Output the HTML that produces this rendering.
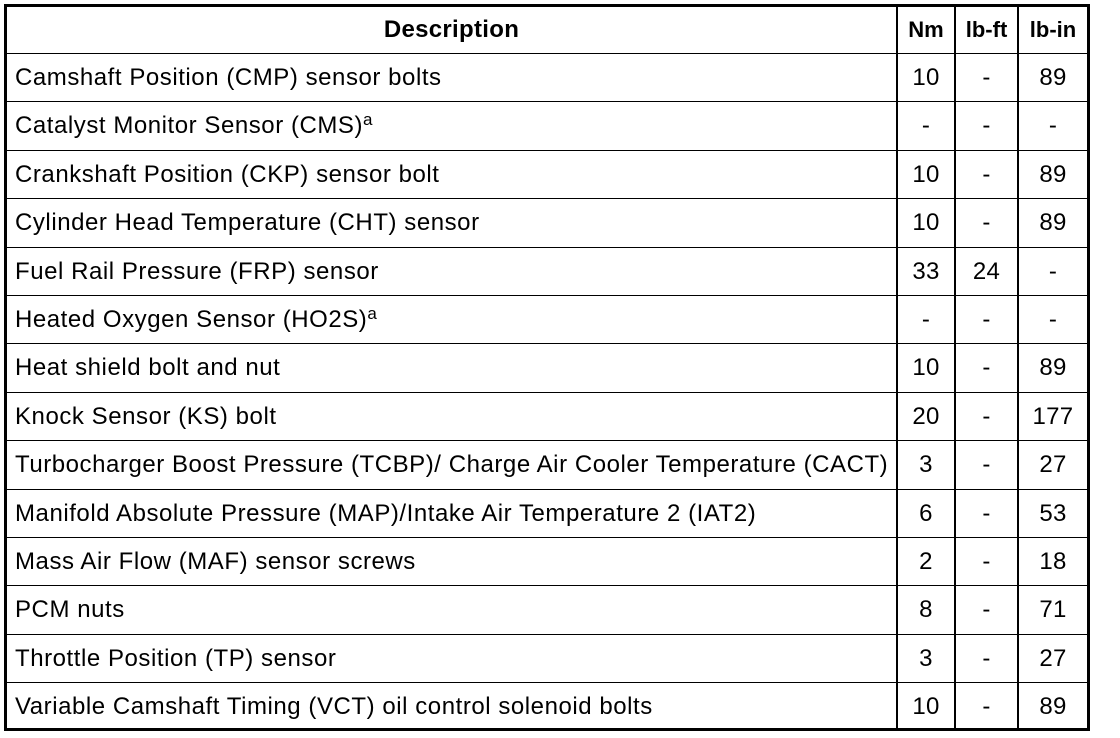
<!DOCTYPE html>
<html><head><meta charset="utf-8"><style>
body{margin:0;width:1120px;height:738px;background:#fff;position:relative;overflow:hidden;font-family:"Liberation Sans",Arial,sans-serif;color:#000}
.b{position:absolute;background:#000}
.t{position:absolute;font-size:24px;letter-spacing:0.55px;line-height:48px;white-space:nowrap}
.c{text-align:center;letter-spacing:0.3px}
sup{font-size:17px;vertical-align:8px;line-height:0}
</style></head><body>
<div class="b" style="left:4px;top:4px;width:1086px;height:3px"></div>
<div class="b" style="left:4px;top:728px;width:1086px;height:3px"></div>
<div class="b" style="left:4px;top:4px;width:3px;height:727px"></div>
<div class="b" style="left:1087px;top:4px;width:3px;height:727px"></div>
<div class="b" style="left:896px;top:4px;width:2px;height:727px"></div>
<div class="b" style="left:954px;top:4px;width:2px;height:727px"></div>
<div class="b" style="left:1017px;top:4px;width:2px;height:727px"></div>
<div id="rows"></div>
<script>
var d=[["Camshaft Position (CMP) sensor bolts","10","-","89"],
["Catalyst Monitor Sensor (CMS)<sup>a</sup>","-","-","-"],
["Crankshaft Position (CKP) sensor bolt","10","-","89"],
["Cylinder Head Temperature (CHT) sensor","10","-","89"],
["Fuel Rail Pressure (FRP) sensor","33","24","-"],
["Heated Oxygen Sensor (HO2S)<sup>a</sup>","-","-","-"],
["Heat shield bolt and nut","10","-","89"],
["Knock Sensor (KS) bolt","20","-","177"],
["Turbocharger Boost Pressure (TCBP)/ Charge Air Cooler Temperature (CACT)","3","-","27"],
["Manifold Absolute Pressure (MAP)/Intake Air Temperature 2 (IAT2)","6","-","53"],
["Mass Air Flow (MAF) sensor screws","2","-","18"],
["PCM nuts","8","-","71"],
["Throttle Position (TP) sensor","3","-","27"],
["Variable Camshaft Timing (VCT) oil control solenoid bolts","10","-","89"]];
var h='';
h+='<div class="t c" style="left:7px;width:889px;top:6px;font-weight:bold">Description</div>';
h+='<div class="t c" style="left:898px;width:56px;top:6px;font-weight:bold;letter-spacing:0;font-size:22px">Nm</div>';
h+='<div class="t c" style="left:956px;width:61px;top:6px;font-weight:bold;letter-spacing:0;font-size:22px">lb-ft</div>';
h+='<div class="t c" style="left:1019px;width:68px;top:6px;font-weight:bold;letter-spacing:0;font-size:22px">lb-in</div>';
for(var i=0;i<14;i++){
 var y=53+i*48.4;
 h+='<div class="b" style="left:7px;top:'+y.toFixed(1)+'px;width:1080px;height:1px"></div>';
 var ty=y+1;
 h+='<div class="t" style="left:15px;top:'+ty+'px">'+d[i][0]+'</div>';
 h+='<div class="t c" style="left:898px;width:56px;top:'+ty+'px">'+d[i][1]+'</div>';
 h+='<div class="t c" style="left:956px;width:61px;top:'+ty+'px">'+d[i][2]+'</div>';
 h+='<div class="t c" style="left:1019px;width:68px;top:'+ty+'px">'+d[i][3]+'</div>';
}
document.getElementById('rows').innerHTML=h;
</script>
</body></html>
